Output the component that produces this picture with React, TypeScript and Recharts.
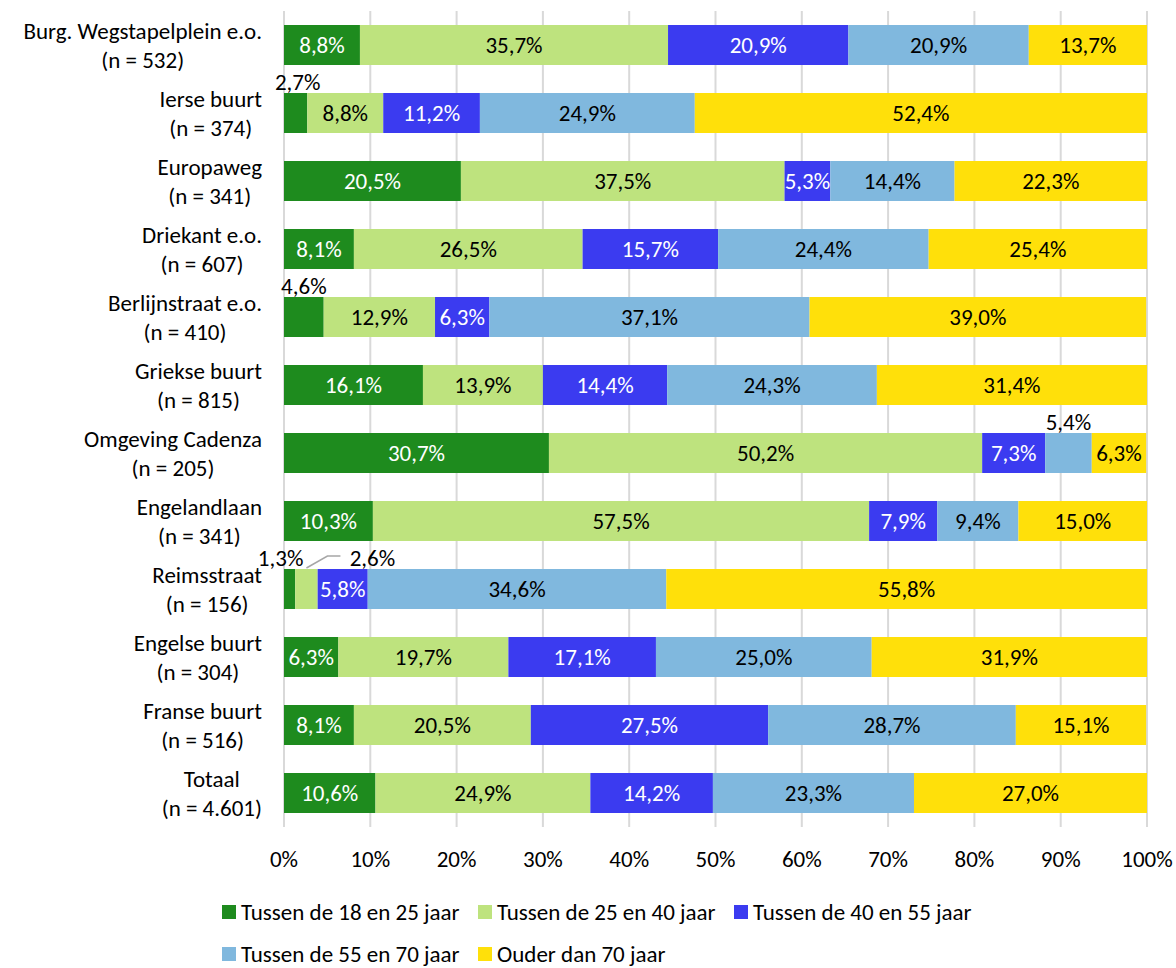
import { BarChart, Bar, XAxis, YAxis, CartesianGrid, LabelList } from 'recharts';

const FONT = 'Carlito, Lato, "Open Sans", sans-serif';
const FS = 23;

const neighbourhoods = [
  'Burg. Wegstapelplein e.o.',
  'Ierse buurt',
  'Europaweg',
  'Driekant e.o.',
  'Berlijnstraat e.o.',
  'Griekse buurt',
  'Omgeving Cadenza',
  'Engelandlaan',
  'Reimsstraat',
  'Engelse buurt',
  'Franse buurt',
  'Totaal',
];
const respondents = ['532', '374', '341', '607', '410', '815', '205', '341', '156', '304', '516', '4.601'];

const age18to25 = [8.8, 2.7, 20.5, 8.1, 4.6, 16.1, 30.7, 10.3, 1.3, 6.3, 8.1, 10.6];
const age25to40 = [35.7, 8.8, 37.5, 26.5, 12.9, 13.9, 50.2, 57.5, 2.6, 19.7, 20.5, 24.9];
const age40to55 = [20.9, 11.2, 5.3, 15.7, 6.3, 14.4, 7.3, 7.9, 5.8, 17.1, 27.5, 14.2];
const age55to70 = [20.9, 24.9, 14.4, 24.4, 37.1, 24.3, 5.4, 9.4, 34.6, 25.0, 28.7, 23.3];
const age70plus = [13.7, 52.4, 22.3, 25.4, 39.0, 31.4, 6.3, 15.0, 55.8, 31.9, 15.1, 27.0];

const xTicks = [0, 10, 20, 30, 40, 50, 60, 70, 80, 90, 100];

const series = [
  { key: 'a', name: 'Tussen de 18 en 25 jaar', color: '#1E8B1E', text: '#fff' },
  { key: 'b', name: 'Tussen de 25 en 40 jaar', color: '#BEE37E', text: '#000' },
  { key: 'c', name: 'Tussen de 40 en 55 jaar', color: '#3B3BF0', text: '#fff' },
  { key: 'd', name: 'Tussen de 55 en 70 jaar', color: '#80B8DE', text: '#000' },
  { key: 'e', name: 'Ouder dan 70 jaar', color: '#FFE00A', text: '#000' },
];

const data = neighbourhoods.map((name, i) => ({
  name,
  n: respondents[i],
  a: age18to25[i],
  b: age25to40[i],
  c: age40to55[i],
  d: age55to70[i],
  e: age70plus[i],
}));

// labels that don't fit inside the bar: row index -> x shift
const outside: Record<string, Record<number, number>> = {
  a: { 1: 2, 4: 0, 8: -9 },
  b: { 8: 66 },
  d: { 6: 0 },
};

const fmt = (v: number) => `${Number(v).toFixed(1).replace('.', ',')}%`;

let ctx: CanvasRenderingContext2D | null = null;
function measure(s: string) {
  if (!ctx) {
    ctx = document.createElement('canvas').getContext('2d');
  }
  if (!ctx) return s.length * 11;
  ctx.font = `${FS}px ${FONT}`;
  return ctx.measureText(s).width;
}

function makeLabel(key: string, color: string) {
  return (props: any) => {
    const { x, y, width, height, value, index } = props;
    const cx = Number(x) + Number(width) / 2;
    const shift = outside[key]?.[index];
    if (shift !== undefined) {
      return (
        <g>
          {shift > 30 && (
            <polyline
              points={`${cx},${y - 1} ${cx + 21},${y - 13} ${cx + 34},${y - 13}`}
              fill="none"
              stroke="#a6a6a6"
              strokeWidth={1.5}
            />
          )}
          <text x={cx + shift} y={y - 3} textAnchor="middle" fill="#000" fontSize={FS} fontFamily={FONT}>
            {fmt(value)}
          </text>
        </g>
      );
    }
    return (
      <text
        x={cx}
        y={Number(y) + Number(height) / 2}
        textAnchor="middle"
        dominantBaseline="central"
        fill={color}
        fontSize={FS}
        fontFamily={FONT}
      >
        {fmt(value)}
      </text>
    );
  };
}

function CategoryTick({ x, y, payload, index }: any) {
  const line1 = payload.value as string;
  const line2 = `(n = ${respondents[index]})`;
  const w = Math.max(measure(line1), measure(line2));
  const cx = x - 14 - w / 2;
  return (
    <g>
      <text x={cx} y={y - 14} textAnchor="middle" dominantBaseline="central" fontSize={FS} fontFamily={FONT} fill="#000">
        {line1}
      </text>
      <text x={cx} y={y + 15} textAnchor="middle" dominantBaseline="central" fontSize={FS} fontFamily={FONT} fill="#000">
        {line2}
      </text>
    </g>
  );
}

export default function App() {
  return (
    <div style={{ position: 'absolute', left: 0, top: 0, width: 1176, height: 968, background: '#fff', fontFamily: FONT }}>
      <BarChart
        width={1176}
        height={900}
        data={data}
        layout="vertical"
        margin={{ top: 11, right: 29, bottom: 0, left: 0 }}
        barSize={40}
      >
        <CartesianGrid horizontal={false} stroke="#d9d9d9" strokeWidth={2} />
        <XAxis
          type="number"
          domain={[0, 100]}
          allowDataOverflow
          ticks={xTicks}
          tickFormatter={(v) => `${v}%`}
          axisLine={false}
          tickLine={false}
          tickSize={0}
          tickMargin={24}
          height={73}
          tick={{ fontSize: FS, fill: '#000', fontFamily: FONT }}
        />
        <YAxis
          type="category"
          dataKey="name"
          width={284}
          axisLine={false}
          tickLine={false}
          interval={0}
          tick={<CategoryTick />}
        />
        {series.map((s) => (
          <Bar key={s.key} dataKey={s.key} name={s.name} stackId="age" fill={s.color} isAnimationActive={false}>
            <LabelList dataKey={s.key} content={makeLabel(s.key, s.text)} />
          </Bar>
        ))}
      </BarChart>
      <div
        style={{
          position: 'absolute',
          left: 222,
          top: 898,
          display: 'grid',
          gridTemplateColumns: '256px 256px auto',
          rowGap: 14,
          fontSize: FS,
          color: '#000',
        }}
      >
        {series.map((s) => (
          <div key={s.key} style={{ display: 'flex', alignItems: 'center', height: 28, whiteSpace: 'nowrap' }}>
            <span style={{ width: 14, height: 14, background: s.color, marginRight: 5, display: 'inline-block', flexShrink: 0 }} />
            {s.name}
          </div>
        ))}
      </div>
    </div>
  );
}
